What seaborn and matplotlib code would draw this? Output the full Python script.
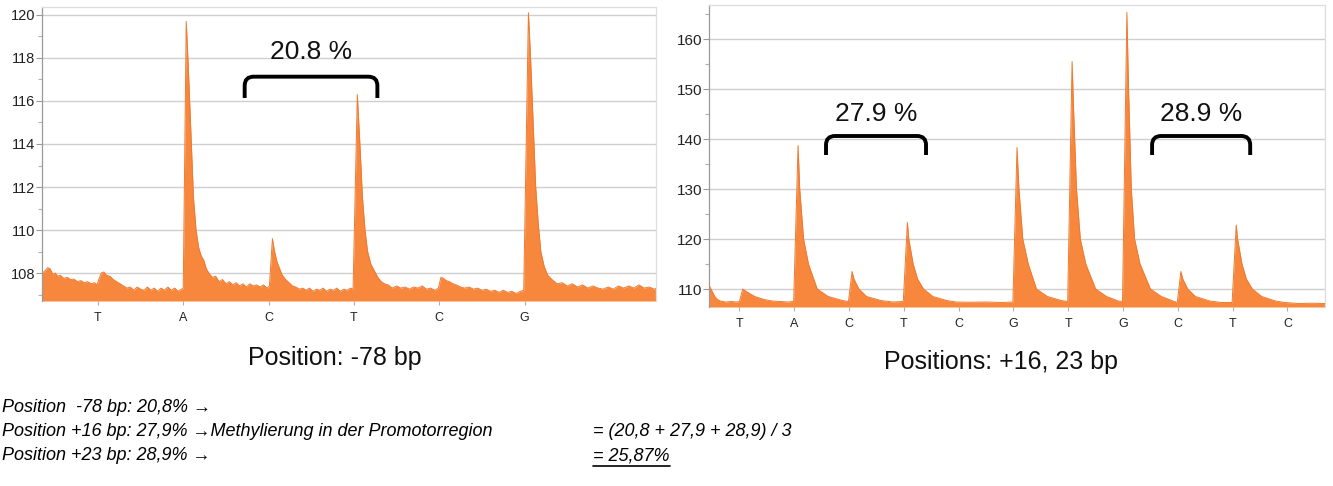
import matplotlib
matplotlib.use("Agg")
import matplotlib.pyplot as plt
import seaborn as sns
import pandas as pd
from matplotlib.path import Path
from matplotlib.patches import PathPatch
from matplotlib.ticker import MultipleLocator

# ---------------- data ----------------
left_bases = ["T", "A", "C", "T", "C", "G"]
right_bases = ["T", "A", "C", "T", "C", "G", "T", "G", "C", "T", "C"]
left_yticks = [108, 110, 112, 114, 116, 118, 120]
right_yticks = [110, 120, 130, 140, 150, 160]

left_x = [0.35, 0.38, 0.41, 0.44, 0.47, 0.50, 0.53, 0.56, 0.60, 0.64, 0.68, 0.72, 0.76, 0.80,
          0.84, 0.88, 0.92, 0.96, 0.99, 1.01, 1.04, 1.07, 1.10, 1.14, 1.18, 1.22, 1.26, 1.30,
          1.34, 1.38, 1.42, 1.46, 1.50, 1.54, 1.58, 1.62, 1.66, 1.70, 1.74, 1.78, 1.82, 1.86,
          1.90, 1.94, 1.98, 2.00, 2.035, 2.06, 2.09, 2.12, 2.15, 2.18, 2.21, 2.24, 2.27, 2.30,
          2.34, 2.38, 2.42, 2.46, 2.50, 2.54, 2.58, 2.62, 2.66, 2.70, 2.74, 2.78, 2.82, 2.86,
          2.90, 2.94, 2.98, 3.01, 3.045, 3.07, 3.10, 3.13, 3.16, 3.20, 3.24, 3.28, 3.32, 3.36,
          3.40, 3.44, 3.48, 3.52, 3.56, 3.60, 3.64, 3.68, 3.72, 3.76, 3.80, 3.84, 3.88, 3.92,
          3.96, 3.99, 4.04, 4.07, 4.10, 4.13, 4.16, 4.20, 4.24, 4.28, 4.32, 4.36, 4.40, 4.45,
          4.50, 4.55, 4.60, 4.65, 4.70, 4.75, 4.80, 4.85, 4.90, 4.95, 4.99, 5.02, 5.05, 5.08,
          5.12, 5.16, 5.20, 5.25, 5.30, 5.35, 5.40, 5.45, 5.50, 5.55, 5.60, 5.65, 5.70, 5.75,
          5.80, 5.85, 5.90, 5.95, 5.99, 6.045, 6.07, 6.10, 6.13, 6.16, 6.19, 6.23, 6.27, 6.32,
          6.38, 6.44, 6.50, 6.56, 6.62, 6.68, 6.74, 6.80, 6.86, 6.92, 6.98, 7.04, 7.10, 7.16,
          7.22, 7.28, 7.34, 7.40, 7.46, 7.52, 7.55]
left_y = [108.0, 108.1, 108.25, 108.2, 107.95, 108.0, 107.85, 107.9, 107.75, 107.8, 107.7,
          107.72, 107.6, 107.65, 107.55, 107.6, 107.5, 107.55, 107.45, 107.7, 108.0, 108.05,
          107.9, 107.85, 107.7, 107.6, 107.5, 107.4, 107.3, 107.35, 107.2, 107.35, 107.25,
          107.2, 107.35, 107.2, 107.3, 107.15, 107.3, 107.2, 107.35, 107.2, 107.3, 107.15,
          107.25, 107.3, 119.7, 117.5, 114.5, 111.5, 110.0, 109.2, 108.8, 108.6, 108.2, 108.0,
          107.8, 107.85, 107.6, 107.7, 107.5, 107.6, 107.45, 107.55, 107.4, 107.5, 107.35,
          107.5, 107.4, 107.45, 107.35, 107.45, 107.3, 107.4, 109.6, 109.0, 108.5, 108.2,
          107.9, 107.7, 107.55, 107.4, 107.35, 107.25, 107.3, 107.2, 107.3, 107.15, 107.25,
          107.2, 107.3, 107.15, 107.25, 107.2, 107.3, 107.15, 107.25, 107.2, 107.3, 107.25,
          116.3, 114.0, 111.5, 110.0, 109.0, 108.4, 108.1, 107.8, 107.6, 107.5, 107.45, 107.3,
          107.4, 107.3, 107.35, 107.25, 107.35, 107.3, 107.4, 107.25, 107.3, 107.2, 107.3,
          107.8, 107.75, 107.65, 107.6, 107.5, 107.45, 107.35, 107.3, 107.35, 107.25, 107.3,
          107.2, 107.25, 107.15, 107.2, 107.1, 107.2, 107.1, 107.15, 107.05, 107.15, 107.2,
          120.1, 118.0, 115.0, 112.0, 110.3, 109.0, 108.3, 107.9, 107.7, 107.5, 107.55, 107.4,
          107.5, 107.35, 107.45, 107.3, 107.4, 107.3, 107.25, 107.35, 107.25, 107.4, 107.3,
          107.4, 107.3, 107.45, 107.3, 107.35, 107.25, 107.3]

right_x = [0.445, 0.50, 0.55, 0.60, 0.65, 0.75, 0.85, 0.95, 1.00, 1.06, 1.14, 1.28, 1.45,
           1.60, 1.75, 1.88, 1.99, 2.07, 2.10, 2.17, 2.26, 2.42, 2.62, 2.88, 2.99, 3.055,
           3.09, 3.18, 3.32, 3.58, 3.80, 3.99, 4.065, 4.09, 4.17, 4.25, 4.36, 4.53, 4.78,
           4.95, 5.20, 5.50, 5.80, 5.99, 6.065, 6.10, 6.17, 6.27, 6.42, 6.62, 6.87, 6.99,
           7.07, 7.10, 7.15, 7.22, 7.32, 7.50, 7.70, 7.91, 7.99, 8.07, 8.10, 8.15, 8.21,
           8.31, 8.50, 8.70, 8.91, 8.99, 9.055, 9.09, 9.18, 9.32, 9.58, 9.80, 9.99, 10.065,
           10.09, 10.17, 10.25, 10.36, 10.53, 10.78, 10.95, 11.20, 11.45, 11.70]
right_y = [110.7, 109.6, 108.5, 107.9, 107.6, 107.4, 107.5, 107.4, 107.5, 110.0, 109.4,
           108.5, 107.9, 107.6, 107.5, 107.4, 107.5, 138.7, 130.0, 120.0, 115.0, 110.0,
           108.5, 107.7, 107.5, 113.5, 112.0, 110.0, 108.5, 107.7, 107.4, 107.5, 123.3,
           120.0, 115.0, 112.0, 110.0, 108.5, 107.7, 107.4, 107.35, 107.4, 107.3, 107.4,
           138.3, 130.0, 120.0, 115.0, 110.0, 108.5, 107.7, 107.5, 155.5, 145.0, 130.0,
           120.0, 115.0, 110.0, 108.5, 107.6, 107.5, 165.3, 150.0, 130.0, 120.0, 115.0,
           110.0, 108.5, 107.6, 107.3, 113.5, 112.0, 110.0, 108.5, 107.6, 107.3, 107.3,
           122.8, 120.0, 115.0, 112.0, 110.0, 108.5, 107.6, 107.3, 107.1, 107.15, 107.1]

left_brackets = [(2.72, 4.275)]
left_labels = ["20.8 %"]
right_brackets = [(2.58, 4.405), (8.53, 10.32)]
right_labels = ["27.9 %", "28.9 %"]
captions = ["Position: -78 bp", "Positions: +16, 23 bp"]
pos_names = ["-78", "+16", "+23"]
meth_values = ["20,8", "27,9", "28,9"]
mean_value = "25,87"

# ---------------- style ----------------
sns.set_theme(style="white")
plt.rcParams["font.family"] = ["Liberation Sans", "DejaVu Sans"]

ORANGE = "#F7873D"
EDGE = "#EE7A30"
GRID = "#cfcfcf"

W, H = 1333, 486
fig = plt.figure(figsize=(W / 100, H / 100), dpi=100)
fig.patch.set_facecolor("white")


def fig_box(l, t, r, b):
    return [l / W, 1 - b / H, (r - l) / W, (b - t) / H]


axL = fig.add_axes(fig_box(42, 7, 656, 301))
axR = fig.add_axes(fig_box(709, 5, 1325, 307))


def draw_trace(ax, xs, ys, base):
    df = pd.DataFrame({"x": xs, "y": ys})
    ax.fill_between(df["x"], base, df["y"], color=ORANGE, linewidth=0, zorder=2)
    sns.lineplot(data=df, x="x", y="y", ax=ax, color=EDGE, linewidth=0.7,
                 estimator=None, sort=False, zorder=3)


def style_axis(ax, bases, yticks, ylim, xlim, minor, ysize):
    ax.set_xlim(*xlim)
    ax.set_ylim(*ylim)
    ax.set_xticks(range(1, len(bases) + 1))
    ax.set_xticklabels(bases, fontsize=9, color="#222222")
    ax.set_yticks(yticks)
    ax.set_yticklabels([str(v) for v in yticks], fontsize=ysize, color="#222222")
    ax.yaxis.set_minor_locator(MultipleLocator(minor))
    ax.grid(axis="y", which="major", color=GRID, linewidth=1.0, zorder=0)
    ax.set_axisbelow(True)
    for side in ["top", "right"]:
        ax.spines[side].set_color("#dddddd")
        ax.spines[side].set_linewidth(0.9)
    ax.spines["bottom"].set_visible(False)
    ax.spines["left"].set_color("#9a9a9a")
    ax.spines["left"].set_linewidth(0.9)
    ax.tick_params(axis="y", which="major", left=True, length=4, width=0.8,
                   color="#9a9a9a", pad=1)
    ax.tick_params(axis="y", which="minor", left=True, length=3, width=0.8,
                   color="#b0b0b0")
    ax.tick_params(axis="x", which="major", bottom=True, length=3, width=0.8,
                   color="#b0b0b0", pad=5)
    ax.set_xlabel("")
    ax.set_ylabel("")


def draw_bracket(ax, x0, x1, ybot, ytop, r_px=9):
    fig.canvas.draw()
    bb = ax.get_window_extent()
    x_lo, x_hi = ax.get_xlim()
    y_lo, y_hi = ax.get_ylim()
    rx = r_px * (x_hi - x_lo) / bb.width
    ry = r_px * (y_hi - y_lo) / bb.height
    verts = [(x0, ybot), (x0, ytop - ry), (x0, ytop), (x0 + rx, ytop),
             (x1 - rx, ytop), (x1, ytop), (x1, ytop - ry), (x1, ybot)]
    codes = [Path.MOVETO, Path.LINETO, Path.CURVE3, Path.CURVE3,
             Path.LINETO, Path.CURVE3, Path.CURVE3, Path.LINETO]
    ax.add_patch(PathPatch(Path(verts, codes), facecolor="none", edgecolor="black",
                           linewidth=2.8, capstyle="butt", zorder=5))


# left chart
draw_trace(axL, left_x, left_y, 106.70)
style_axis(axL, left_bases, left_yticks, (106.70, 120.37), (0.345, 7.54), 1, 10.5)
for (a, b), lab in zip(left_brackets, left_labels):
    draw_bracket(axL, a, b, 116.14, 117.13)
    axL.text((a + b) / 2, 118.3, lab, ha="center", va="center", fontsize=19, color="#111111")

# right chart
draw_trace(axR, right_x, right_y, 106.4)
style_axis(axR, right_bases, right_yticks, (106.4, 166.8), (0.445, 11.685), 5, 11)
for (a, b), lab in zip(right_brackets, right_labels):
    draw_bracket(axR, a, b, 136.8, 140.6)
    axR.text((a + b) / 2, 145.0, lab, ha="center", va="center", fontsize=19, color="#111111")

# captions
fig.text(335 / W, 1 - 358 / H, captions[0], ha="center", va="center", fontsize=18, color="#111111")
fig.text(1001 / W, 1 - 362 / H, captions[1], ha="center", va="center", fontsize=18, color="#111111")

# bottom text
tkw = dict(fontsize=13, style="italic", color="black", va="center", ha="left")
fig.text(2 / W, 1 - 408 / H, f"Position  {pos_names[0]} bp: {meth_values[0]}% \u2192", **tkw)
fig.text(2 / W, 1 - 432 / H,
         f"Position {pos_names[1]} bp: {meth_values[1]}% \u2192Methylierung in der Promotorregion",
         **tkw)
fig.text(2 / W, 1 - 456 / H, f"Position {pos_names[2]} bp: {meth_values[2]}% \u2192", **tkw)
fig.text(593 / W, 1 - 432 / H,
         f"= ({meth_values[0]} + {meth_values[1]} + {meth_values[2]}) / 3", **tkw)
t_mean = fig.text(593 / W, 1 - 456 / H, f"= {mean_value}%", **tkw)

fig.canvas.draw()
bb = t_mean.get_window_extent()
y_u = (bb.y0 - 1.5) / H
fig.add_artist(plt.Line2D([bb.x0 / W, bb.x1 / W], [y_u, y_u], transform=fig.transFigure,
                          color="black", linewidth=1.2))

fig.savefig("out.png", dpi=100, facecolor="white")
